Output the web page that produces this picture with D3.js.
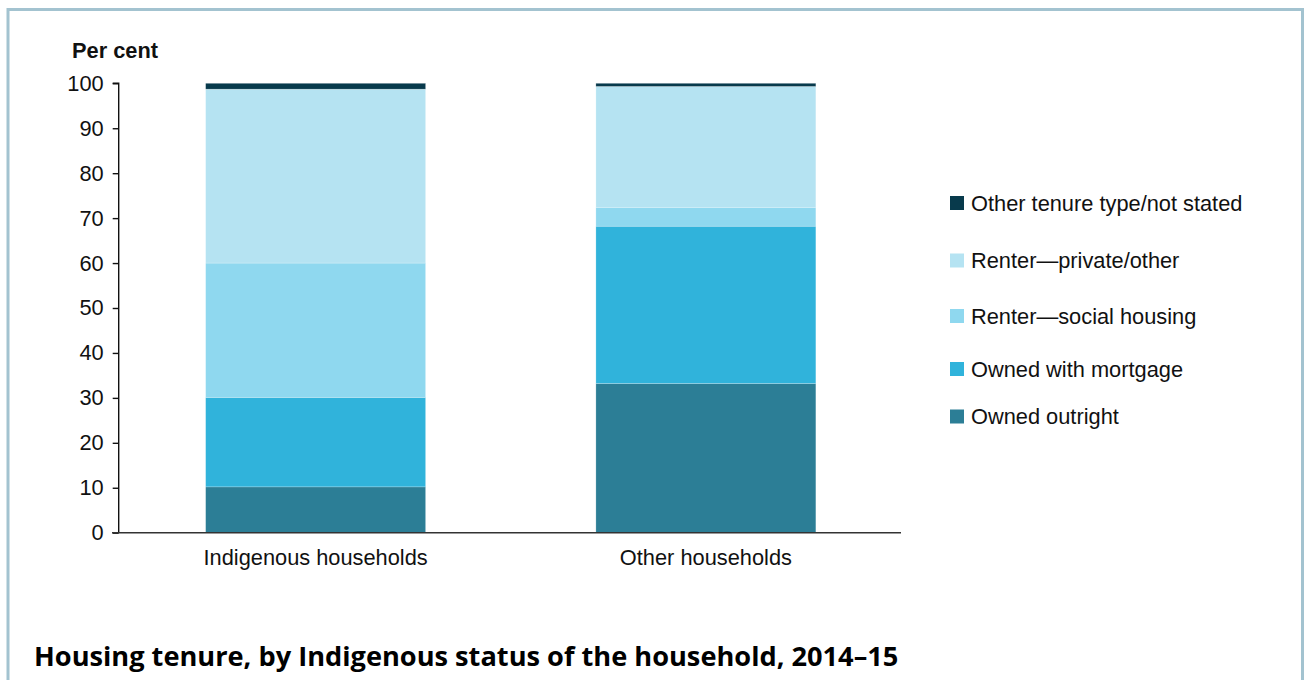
<!DOCTYPE html>
<html>
<head>
<meta charset="utf-8">
<script src="https://cdn.jsdelivr.net/npm/d3@7"></script>
<style>
  html, body { margin: 0; padding: 0; background: #fff; }
  svg { display: block; }
</style>
</head>
<body>
<svg id="chart" width="1304" height="680"></svg>
<script>
// ---- data ----
const categories = ["Indigenous households", "Other households"];
const seriesNames = ["Owned outright", "Owned with mortgage", "Renter\u2014social housing", "Renter\u2014private/other", "Other tenure type/not stated"];
const ownedOutright = [10.2, 33.2];
const ownedMortgage = [19.9, 35.0];
const renterSocial = [29.9, 4.2];
const renterPrivate = [38.7, 26.9];
const otherTenure = [1.3, 0.7];
const yTicks = [0, 10, 20, 30, 40, 50, 60, 70, 80, 90, 100];
const legendOrder = ["Other tenure type/not stated", "Renter\u2014private/other", "Renter\u2014social housing", "Owned with mortgage", "Owned outright"];

const colors = {
  "Owned outright": "#2c7e96",
  "Owned with mortgage": "#30b3db",
  "Renter\u2014social housing": "#8fd8ef",
  "Renter\u2014private/other": "#b5e3f2",
  "Other tenure type/not stated": "#083a4c"
};

const seriesValues = [ownedOutright, ownedMortgage, renterSocial, renterPrivate, otherTenure];
const table = categories.map((c, i) => {
  const row = { category: c };
  seriesNames.forEach((s, j) => row[s] = seriesValues[j][i]);
  return row;
});

const FONT = "Liberation Sans, Arial, sans-serif";
const FS = 21.8;

const svg = d3.select("#chart");

// frame
svg.append("path")
  .attr("d", "M8,690 L8,9.5 L1302.5,9.5 L1302.5,690")
  .attr("fill", "none")
  .attr("stroke", "#a3c3d0")
  .attr("stroke-width", 3);

const x = d3.scaleBand()
  .domain(categories)
  .range([120.5, 901])
  .paddingInner(0.4364)
  .paddingOuter(0.2182);

const y = d3.scaleLinear().domain([0, 100]).range([532.7, 83.3]);

const stack = d3.stack().keys(seriesNames);
const layers = stack(table);

const g = svg.append("g");
g.selectAll("g.layer")
  .data(layers)
  .join("g")
  .attr("class", "layer")
  .attr("fill", d => colors[d.key])
  .selectAll("rect")
  .data(d => d)
  .join("rect")
  .attr("x", d => x(d.data.category))
  .attr("width", x.bandwidth())
  .attr("y", d => y(d[1]))
  .attr("height", d => y(d[0]) - y(d[1]))
  .attr("stroke", "#ffffff")
  .attr("stroke-opacity", 0.35)
  .attr("stroke-width", 0.6);

// y axis
const yAxis = d3.axisLeft(y).tickValues(yTicks).tickSize(6).tickPadding(9);
const yg = svg.append("g").attr("transform", "translate(118.7,0)").call(yAxis);
yg.select(".domain").attr("d", "M-6,83.3 H0 V532.7").attr("stroke", "#111").attr("stroke-width", 1.4);
yg.selectAll(".tick line").attr("stroke", "#111").attr("stroke-width", 1.4);
yg.selectAll(".tick text")
  .attr("font-family", FONT)
  .attr("font-size", FS)
  .attr("fill", "#111");

// x axis
const xAxis = d3.axisBottom(x).tickSize(0).tickPadding(17);
const xg = svg.append("g").attr("transform", "translate(0,532.7)").call(xAxis);
xg.select(".domain").attr("d", "M112,0 H901").attr("stroke", "#333").attr("stroke-width", 1.4);
xg.selectAll(".tick text")
  .attr("font-family", FONT)
  .attr("font-size", FS)
  .attr("fill", "#111");

// y axis title
svg.append("text")
  .attr("x", 72).attr("y", 58)
  .attr("font-family", FONT)
  .attr("font-weight", "bold")
  .attr("font-size", FS)
  .attr("fill", "#111")
  .text("Per cent");

// legend
const legendY = [203, 260.5, 316, 369, 416.5];
const lg = svg.append("g");
legendOrder.forEach((name, i) => {
  const item = lg.append("g").attr("transform", `translate(950,${legendY[i]})`);
  item.append("rect").attr("x", 0).attr("y", -7).attr("width", 14).attr("height", 14).attr("fill", colors[name]);
  item.append("text")
    .attr("x", 21).attr("y", 7.5)
    .attr("font-family", FONT)
    .attr("font-size", FS)
    .attr("fill", "#111")
    .text(name);
});

// title
svg.append("text")
  .attr("x", 34).attr("y", 666)
  .attr("font-family", "Open Sans, sans-serif")
  .attr("font-weight", "bold")
  .attr("font-size", 27.2)
  .attr("fill", "#000")
  .text("Housing tenure, by Indigenous status of the household, 2014\u201315");
</script>
</body>
</html>
